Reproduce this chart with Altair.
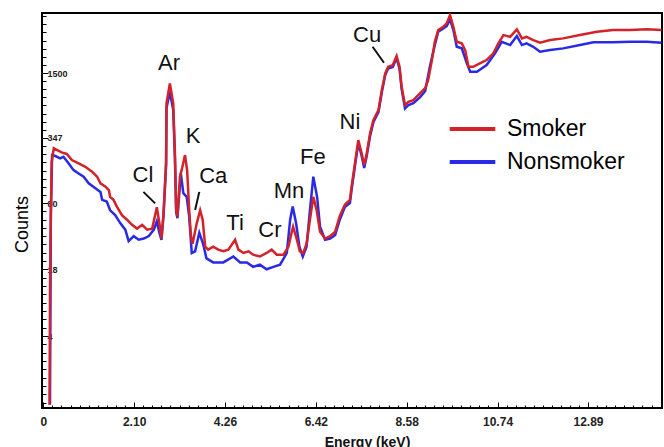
import altair as alt
import numpy as np
import pandas as pd

# ---- spectrum data (energy in keV, detector counts) ----
smoker_energy = [0.09, 0.10, 0.12, 0.14, 0.19, 0.27, 0.39, 0.50, 0.62, 0.78, 0.94, 1.10, 1.22, 1.30,
                 1.42, 1.50, 1.53, 1.61, 1.69, 1.81, 1.93, 2.05, 2.17, 2.29, 2.41, 2.53, 2.64, 2.70,
                 2.75, 2.80, 2.86, 2.87, 2.95, 3.03, 3.07, 3.10, 3.13, 3.19, 3.23, 3.31, 3.36, 3.41,
                 3.45, 3.49, 3.59, 3.67, 3.73, 3.79, 3.86, 3.98, 4.10, 4.22, 4.34, 4.50, 4.58, 4.70,
                 4.82, 4.93, 5.09, 5.25, 5.37, 5.49, 5.65, 5.77, 5.85, 5.88, 5.97, 6.04, 6.12, 6.20,
                 6.28, 6.36, 6.44, 6.52, 6.64, 6.76, 6.88, 6.99, 7.11, 7.23, 7.27, 7.35, 7.43, 7.51,
                 7.57, 7.63, 7.71, 7.79, 7.91, 7.99, 8.07, 8.14, 8.25, 8.34, 8.41, 8.46, 8.54, 8.62,
                 8.74, 8.90, 9.02, 9.09, 9.18, 9.25, 9.33, 9.45, 9.53, 9.61, 9.69, 9.77, 9.89, 9.97,
                 10.05, 10.16, 10.32, 10.48, 10.64, 10.76, 10.88, 11.04, 11.20, 11.32, 11.43, 11.59,
                 11.75, 11.99, 12.30, 12.70, 13.10, 13.49, 13.89, 14.29, 14.64]
smoker_counts = [0.85, 11, 60, 200, 275, 264, 249, 242, 211, 196, 181, 162, 145, 125,
                 116, 107, 92, 86, 74, 61, 55, 49, 45, 49, 44, 45, 73, 51,
                 36, 64, 197, 757, 1188, 757, 247, 68, 59, 145, 168, 236, 168, 68,
                 38, 32, 51, 68, 55, 30, 28, 30, 28, 27, 28, 35, 28, 26,
                 27, 25, 24, 26, 28, 25, 25, 30, 42, 47, 35, 27, 26, 32,
                 55, 92, 68, 42, 36, 38, 42, 60, 77, 86, 116, 196, 331, 245,
                 189, 245, 385, 520, 651, 1021, 1488, 1726, 1794, 2197, 1726, 1100, 729, 785,
                 815, 955, 1068, 1279, 2008, 3045, 3948, 4251, 4589, 5534, 4251, 3031, 2925, 2515,
                 1726, 1726, 1864, 2008, 2335, 2925, 3527, 3394, 4011, 3273, 3394, 3150,
                 2965, 3150, 3273, 3527, 3799, 3948, 3948, 4011, 3948]

nonsmoker_energy = [0.10, 0.12, 0.15, 0.23, 0.34, 0.42, 0.54, 0.66, 0.78, 0.90, 1.02, 1.18, 1.30,
                    1.34, 1.45, 1.53, 1.65, 1.77, 1.89, 1.97, 2.09, 2.21, 2.33, 2.45, 2.57, 2.64,
                    2.70, 2.75, 2.80, 2.86, 2.87, 2.95, 3.03, 3.07, 3.10, 3.13, 3.21, 3.27, 3.35,
                    3.41, 3.47, 3.55, 3.65, 3.74, 3.82, 3.98, 4.22, 4.46, 4.62, 4.78, 4.93, 5.09,
                    5.25, 5.41, 5.57, 5.73, 5.81, 5.87, 5.95, 6.03, 6.11, 6.20, 6.28, 6.36, 6.45,
                    6.52, 6.64, 6.76, 6.88, 6.99, 7.11, 7.23, 7.27, 7.35, 7.43, 7.51, 7.57, 7.63,
                    7.71, 7.79, 7.91, 7.99, 8.07, 8.14, 8.25, 8.34, 8.41, 8.46, 8.54, 8.62, 8.74,
                    8.90, 9.02, 9.13, 9.25, 9.33, 9.45, 9.53, 9.61, 9.69, 9.77, 9.89, 10.01, 10.09,
                    10.25, 10.48, 10.68, 10.84, 11.04, 11.20, 11.32, 11.43, 11.59, 11.75, 11.99,
                    12.30, 12.70, 13.02, 13.49, 13.89, 14.29, 14.64]
nonsmoker_counts = [0.85, 60, 236, 231, 219, 227, 196, 168, 156, 145, 125, 112, 103,
                    86, 83, 68, 61, 51, 44, 34, 38, 35, 36, 38, 44, 53,
                    41, 35, 61, 189, 681, 976, 651, 221, 65, 57, 157, 100, 92,
                    59, 26, 27, 41, 32, 23, 21, 21, 24, 21, 21, 19, 20,
                    18, 19, 20, 26, 55, 74, 51, 30, 24, 30, 68, 145, 92,
                    47, 35, 36, 39, 55, 73, 80, 107, 184, 310, 231, 176, 231,
                    362, 497, 622, 976, 1432, 1658, 1715, 2100, 1658, 1044, 676, 729, 762,
                    872, 999, 1726, 2815, 3799, 4102, 4319, 5022, 3948, 2709, 2614, 1864, 1543,
                    1543, 1794, 2335, 3031, 2815, 3448, 2815, 2925, 2709, 2421, 2515,
                    2614, 2815, 2992, 2992, 3031, 3031, 2965]

# ---- peak annotations ----
element_names = ["Ar", "K", "Cl", "Ca", "Ti", "Cr", "Mn", "Fe", "Ni", "Cu"]
element_energy = [2.93, 3.50, 2.31, 3.98, 4.50, 5.33, 5.78, 6.35, 7.23, 7.64]
element_counts = [1877, 362, 150, 147, 51, 44, 105, 226, 497, 3527]

leader_energy_start = [2.32, 3.65, 7.77]
leader_counts_start = [103, 103, 2709]
leader_energy_end = [2.60, 3.55, 8.04]
leader_counts_end = [79.5, 68.4, 1889]

# ---- axes ----
x_major = [-0.06, 2.10, 4.26, 6.42, 8.58, 10.74, 12.89]
y_major = [4, 18, 80, 347, 1500]
series_names = ["Smoker", "Nonsmoker"]
series_colors = ["#d3222a", "#2a2ae6"]

W, H = 620, 395
FONT = "Liberation Sans"

# minor tick marks: 10 per labelled x step, 8 per labelled y step (log spaced)
x_minor = []
for a, b in zip(x_major[:-1], x_major[1:]):
    x_minor += [round(v, 4) for v in np.linspace(a, b, 11)[1:-1]]
step_x = 0.216
x_minor += [round(x_major[-1] + step_x * k, 4) for k in range(1, 9)]

y_minor = []
for a, b in zip(y_major[:-1], y_major[1:]):
    y_minor += [float(v) for v in np.geomspace(a, b, 9)[1:-1]]
r_low = (y_major[1] / y_major[0]) ** (1 / 8)
y_minor += [y_major[0] / r_low ** k for k in range(1, 9)]
r_high = (y_major[-1] / y_major[-2]) ** (1 / 8)
y_minor += [y_major[-1] * r_high ** k for k in range(1, 8)]

x_scale = alt.Scale(domain=[-0.09, 14.65], nice=False, zero=False)
y_scale = alt.Scale(type="log", domain=[0.79, 5800], nice=False)
color_scale = alt.Scale(domain=series_names, range=series_colors)

# left axis: placed on the right orient and shifted onto the left edge so ticks point inwards
y_axis_major = alt.Axis(
    orient="right", offset=-W, values=y_major, domain=False, grid=False,
    tickColor="black", tickWidth=1, tickSize=6,
    labelExpr="format(datum.value, 'd')",
    labelAlign="left", labelBaseline="middle", labelPadding=-1,
    labelFont=FONT, labelFontSize=9, labelFontWeight="bold", labelColor="#222",
    labelOverlap=False,
    title="Counts", titleX=-20, titleY=211, titleAngle=270, titleAlign="center",
    titleBaseline="middle", titleFont=FONT, titleFontSize=18, titleFontWeight="normal",
    titleColor="black",
)
y_axis_minor = alt.Axis(
    orient="right", offset=-W, values=y_minor, domain=False, grid=False,
    tickColor="black", tickWidth=1, tickSize=4, labels=False, title=None,
)

x_axis_labels = alt.Axis(
    orient="bottom", values=x_major, ticks=False, domain=False, grid=False,
    labelExpr="datum.value < 0 ? '0' : format(datum.value, '.2f')",
    labelFont=FONT, labelFontSize=12, labelFontWeight="bold", labelColor="#222",
    labelPadding=8, labelFlush=False, labelOverlap=False,
    title="Energy (keV)", titleX=325, titleY=34, titleAlign="center", titleBaseline="middle",
    titleFont=FONT, titleFontSize=14, titleFontWeight="bold", titleColor="#111",
)
# bottom tick marks: top orient shifted down onto the bottom edge so ticks point up
x_axis_major_ticks = alt.Axis(
    orient="top", offset=-H, values=x_major, labels=False, domain=False, grid=False,
    tickColor="black", tickWidth=1, tickSize=6, title=None,
)
x_axis_minor_ticks = alt.Axis(
    orient="top", offset=-H, values=x_minor, labels=False, domain=False, grid=False,
    tickColor="black", tickWidth=1, tickSize=3, title=None,
)

legend = alt.Legend(
    orient="none", legendX=409.5, legendY=95, title=None,
    symbolType="M-1.2,0H1.2", symbolSize=1444, symbolStrokeWidth=4,
    labelFont=FONT, labelFontSize=23, labelColor="black", labelOffset=13.5,
    rowPadding=0, padding=0,
)

smoker_df = pd.DataFrame({"energy": smoker_energy, "counts": smoker_counts, "series": "Smoker"})
nonsmoker_df = pd.DataFrame({"energy": nonsmoker_energy, "counts": nonsmoker_counts, "series": "Nonsmoker"})
labels_df = pd.DataFrame({"name": element_names, "energy": element_energy, "counts": element_counts})
leaders_df = pd.DataFrame({"e1": leader_energy_start, "c1": leader_counts_start,
                           "e2": leader_energy_end, "c2": leader_counts_end})

nonsmoker_line = alt.Chart(nonsmoker_df).mark_line(strokeWidth=2.5, clip=True).encode(
    x=alt.X("energy:Q", scale=x_scale, axis=x_axis_labels),
    y=alt.Y("counts:Q", scale=y_scale, axis=y_axis_major),
    color=alt.Color("series:N", scale=color_scale, legend=legend),
    order=alt.Order("energy:Q"),
)

smoker_line = alt.Chart(smoker_df).mark_line(strokeWidth=2.5, clip=True).encode(
    x=alt.X("energy:Q", scale=x_scale, axis=x_axis_major_ticks),
    y=alt.Y("counts:Q", scale=y_scale, axis=None),
    color=alt.Color("series:N", scale=color_scale, legend=legend),
    order=alt.Order("energy:Q"),
)

element_text = alt.Chart(labels_df).mark_text(
    font=FONT, fontSize=22, color="#111", align="center", baseline="middle"
).encode(
    x=alt.X("energy:Q", scale=x_scale, axis=x_axis_minor_ticks),
    y=alt.Y("counts:Q", scale=y_scale, axis=y_axis_minor),
    text="name:N",
)

leader_lines = alt.Chart(leaders_df).mark_rule(color="#111", strokeWidth=2).encode(
    x=alt.X("e1:Q", scale=x_scale, axis=None),
    y=alt.Y("c1:Q", scale=y_scale, axis=None),
    x2="e2:Q",
    y2="c2:Q",
)

chart = (
    alt.layer(nonsmoker_line, smoker_line, element_text, leader_lines)
    .resolve_axis(x="independent", y="independent")
    .properties(
        width=W, height=H,
        autosize=alt.AutoSizeParams(type="none"),
        padding={"left": 42, "top": 13, "right": 2, "bottom": 39},
        background="white",
    )
    .configure_view(stroke="black", strokeWidth=2)
)

chart.save("out.html", embed_options={"renderer": "svg", "actions": False})
